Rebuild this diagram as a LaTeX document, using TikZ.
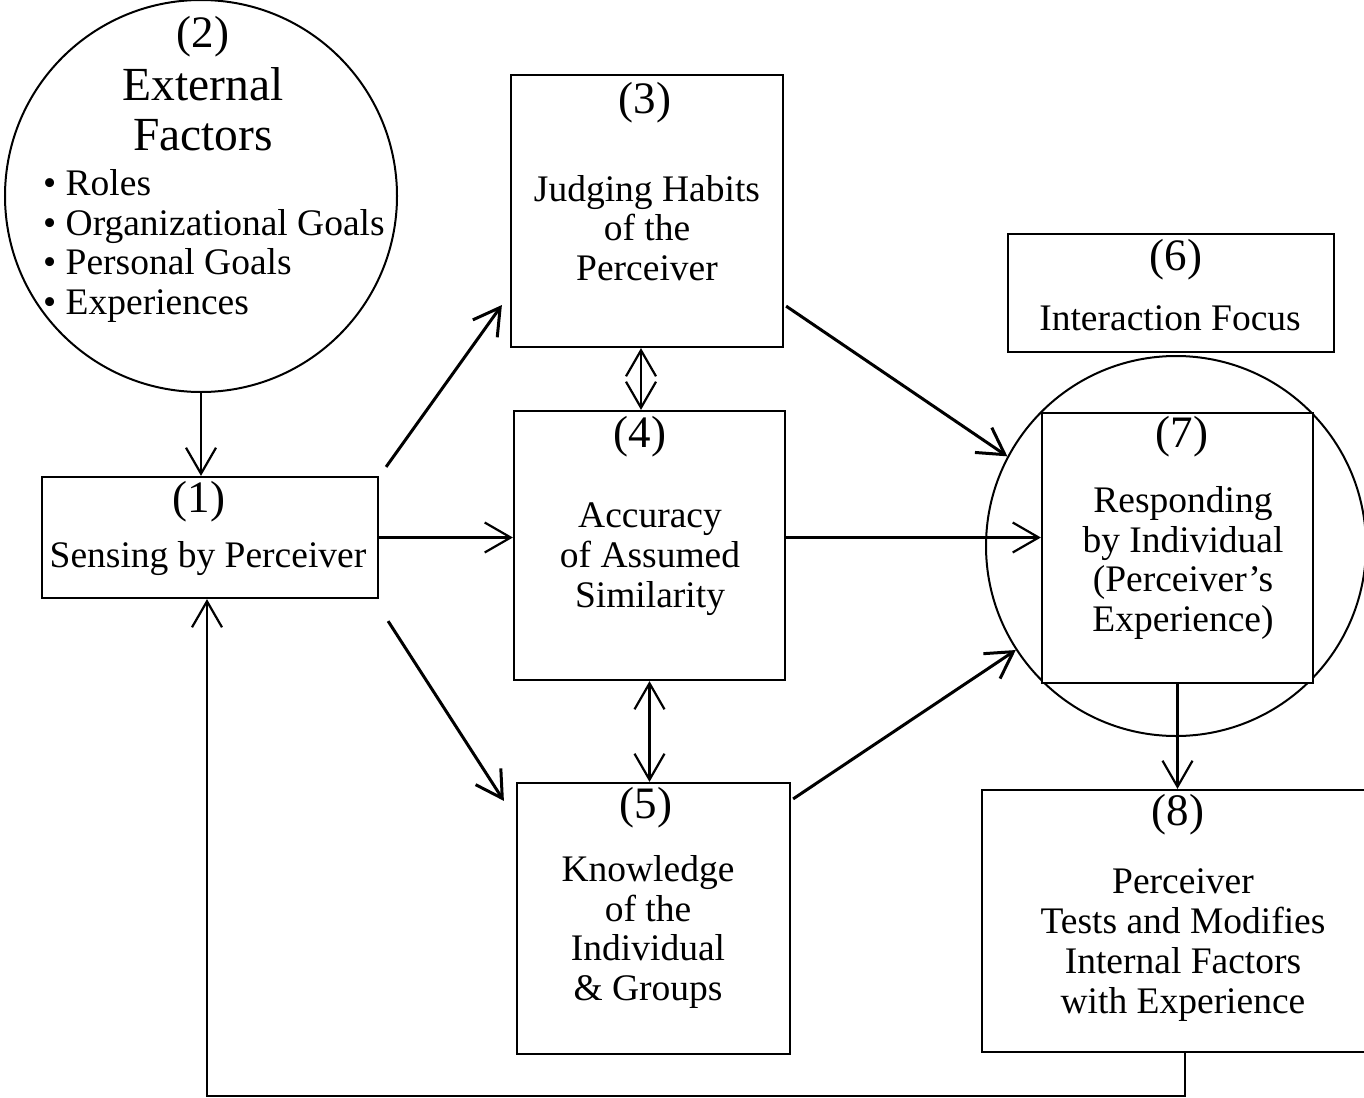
\documentclass[tikz,border=0pt]{standalone}
\usepackage{fontspec}
\setmainfont{Liberation Serif}
\usetikzlibrary{arrows.meta,calc}
\begin{document}
\begin{tikzpicture}[x=1pt,y=-1pt,
  >={Straight Barb[length=26pt,width=30pt]},
  stage/.style={draw,rectangle,line width=2.2pt,inner sep=0pt,fill=white},
  ring/.style={draw,circle,line width=2pt,inner sep=0pt},
  num/.style={inner sep=0pt,font=\fontsize{45}{50}\selectfont},
  txt/.style={inner sep=0pt,align=center,font=\fontsize{37.5}{39.8}\selectfont},
  flow/.style={->,line width=2.2pt},
  twoway/.style={<->,line width=2.2pt},
  diag/.style={->,line width=3pt}
]
\useasboundingbox (0,0) rectangle (1364,1097);
\clip (0,0) rectangle (1364,1097);

% (2) external factors
\node[ring,minimum size=392pt] (c2) at (201,196) {};
\node[num] (c2num) at (203,37) {(2)};
\node[inner sep=0pt,align=center,font=\fontsize{47.5}{50}\selectfont] (c2head) at (203,109) {External\\Factors};
\node[inner sep=0pt,align=left,anchor=west,font=\fontsize{37.5}{39.8}\selectfont] (c2list) at (43,246)
  {• Roles\\• Organizational Goals\\• Personal Goals\\• Experiences};

% (1) sensing
\node[stage,minimum width=336pt,minimum height=121pt] (b1) at (210,537.5) {};
\node[num] (b1num) at (199,502) {(1)};
\node[txt] (b1txt) at (208,559) {Sensing by Perceiver};

% (3) judging habits
\node[stage,minimum width=272pt,minimum height=272pt] (b3) at (647,211) {};
\node[num] (b3num) at (645,103) {(3)};
\node[txt] (b3txt) at (647,228) {Judging Habits\\of the\\Perceiver};

% (4) accuracy
\node[stage,minimum width=271pt,minimum height=269pt] (b4) at (649.5,545.5) {};
\node[num] (b4num) at (640,437) {(4)};
\node[txt] (b4txt) at (650,559) {Accuracy\\of Assumed\\Similarity};

% (5) knowledge
\node[stage,minimum width=273pt,minimum height=271pt] (b5) at (653.5,918.5) {};
\node[num] (b5num) at (646,808) {(5)};
\node[txt] (b5txt) at (648,932) {Knowledge\\of the\\Individual\\\& Groups};

% (6) interaction focus
\node[stage,minimum width=326pt,minimum height=118pt] (b6) at (1171,293) {};
\node[num] (b6num) at (1176,260) {(6)};
\node[txt] (b6txt) at (1170,318) {Interaction Focus};

% (7) responding, inside its circle
\node[ring,minimum size=380pt] (c7) at (1176,546) {};
\node[stage,minimum width=271pt,minimum height=270pt] (b7) at (1177.5,548) {};
\node[num] (b7num) at (1182,437) {(7)};
\node[txt] (b7txt) at (1183,563) {Responding\\by Individual\\(Perceiver’s\\Experience)};

% (8) tests and modifies
\node[stage,minimum width=420pt,minimum height=262pt] (b8) at (1192,921) {};
\node[num] (b8num) at (1178,815) {(8)};
\node[txt] (b8txt) at (1183,945) {Perceiver\\Tests and Modifies\\Internal Factors\\with Experience};

% connectors
\draw[flow] (c2.south) -- (c2.south |- b1.north);
\draw[diag] ($(b1.north east)+(7,-9)$) -- ($(b3.west)+(-8,94)$);
\draw[flow] (b1.east) -- (b4.west |- b1.east);
\draw[diag] ($(b1.south east)+(9,22)$) -- ($(b5.north west)+(-12,19)$);
\draw[twoway] ($(b3.south)+(-6,0)$) -- ($(b4.north)+(-8.5,0)$);
\draw[twoway] (b4.south) -- (b4.south |- b5.north);
\draw[diag] ($(b3.south east)+(2,-42)$) -- (c7.152.7);
\draw[flow] (b4.east |- b1.east) -- (b7.west |- b1.east);
\draw[diag] ($(b5.north east)+(2,17)$) -- (c7.213.3);
\draw[flow] (b7.south) -- (b7.south |- b8.north);
\draw[flow] ($(b8.south west)+(204,0)$) -- ++(0,43) -| ($(b1.south)+(-3,0)$);
\end{tikzpicture}
\end{document}
